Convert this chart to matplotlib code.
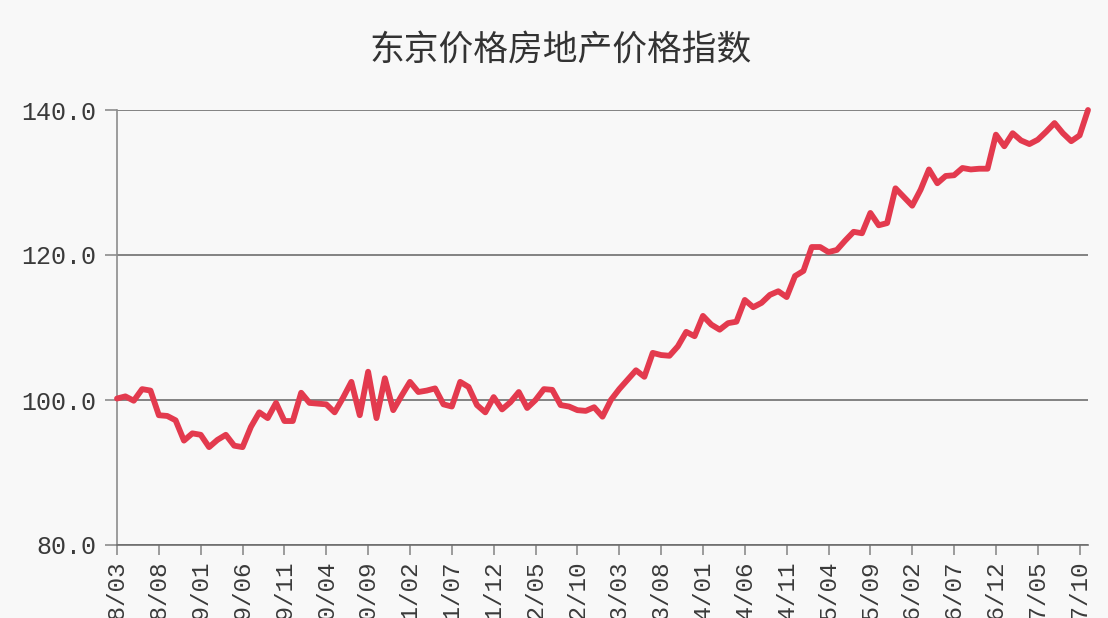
import matplotlib.pyplot as plt
import numpy as np

# Tokyo condominium price index, monthly 2008/03 - 2017/11
title = '东京价格房地产价格指数'

index_values = [
    100.2, 100.5, 99.9, 101.5, 101.3, 97.9, 97.8, 97.2, 94.4, 95.4,
    95.2, 93.5, 94.5, 95.2, 93.7, 93.5, 96.3, 98.3, 97.5, 99.6,
    97.1, 97.1, 101.0, 99.6, 99.5, 99.4, 98.3, 100.3, 102.5, 97.9,
    103.9, 97.5, 103.0, 98.6, 100.6, 102.5, 101.1, 101.3, 101.6, 99.4,
    99.1, 102.5, 101.8, 99.3, 98.3, 100.4, 98.7, 99.7, 101.1, 98.9,
    100.0, 101.5, 101.4, 99.3, 99.1, 98.6, 98.5, 99.0, 97.7, 100.0,
    101.5, 102.8, 104.1, 103.2, 106.5, 106.2, 106.1, 107.4, 109.4, 108.8,
    111.6, 110.4, 109.7, 110.6, 110.8, 113.8, 112.8, 113.4, 114.5, 115.0,
    114.2, 117.1, 117.8, 121.1, 121.1, 120.4, 120.7, 122.0, 123.2, 123.0,
    125.8, 124.1, 124.4, 129.2, 128.0, 126.8, 129.0, 131.8, 129.9, 130.9,
    131.0, 132.0, 131.8, 131.9, 131.9, 136.6, 135.0, 136.8, 135.8, 135.3,
    135.9, 137.0, 138.2, 136.8, 135.7, 136.5, 140.0,
]

tick_labels = [
    '2008/03', '2008/08', '2009/01', '2009/06', '2009/11', '2010/04',
    '2010/09', '2011/02', '2011/07', '2011/12', '2012/05', '2012/10',
    '2013/03', '2013/08', '2014/01', '2014/06', '2014/11', '2015/04',
    '2015/09', '2016/02', '2016/07', '2016/12', '2017/05', '2017/10',
]
y_ticks = [80, 100, 120, 140]

bg = '#f8f8f8'
W, H = 1108, 618
fig = plt.figure(figsize=(W / 100, H / 100), dpi=100, facecolor=bg)
ax = fig.add_axes([117 / W, 1 - 545 / H, (1088 - 117) / W, (545 - 110) / H])
ax.set_facecolor(bg)

months = np.arange(len(index_values))
ax.plot(months, index_values, color='#e33a4e', lw=4.2,
        solid_joinstyle='round', solid_capstyle='round', clip_on=False, zorder=3)

ax.set_xlim(0, len(index_values) - 1)
ax.set_ylim(80, 140)

ax.set_yticks(y_ticks)
ax.set_yticklabels(['%.1f' % v for v in y_ticks], family='Liberation Mono')
ax.yaxis.grid(True, color='#6e6e6e', lw=1.2)
ax.set_axisbelow(True)

ax.set_xticks(months[::5][:len(tick_labels)])
ax.set_xticklabels(tick_labels, rotation=90, va='top', ha='center',
                   family='Liberation Mono')

for s in ['top', 'right']:
    ax.spines[s].set_visible(False)
ax.spines['left'].set_color('#8c8c8c')
ax.spines['left'].set_linewidth(1.2)
ax.spines['bottom'].set_color('#6e6e6e')
ax.spines['bottom'].set_linewidth(1.2)

ax.tick_params(axis='y', length=9, width=1.2, color='#8c8c8c', pad=6,
               labelsize=18, labelcolor='#3a3a3a')
ax.tick_params(axis='x', length=7, width=1.2, color='#8c8c8c', pad=4,
               labelsize=17.5, labelcolor='#3a3a3a')

fig.text(561 / W, 1 - 50 / H, title, ha='center', va='center', fontsize=25,
         family=['Noto Sans CJK SC', 'DejaVu Sans'], color='#333333')

fig.savefig('out.png', dpi=100, facecolor=bg)
